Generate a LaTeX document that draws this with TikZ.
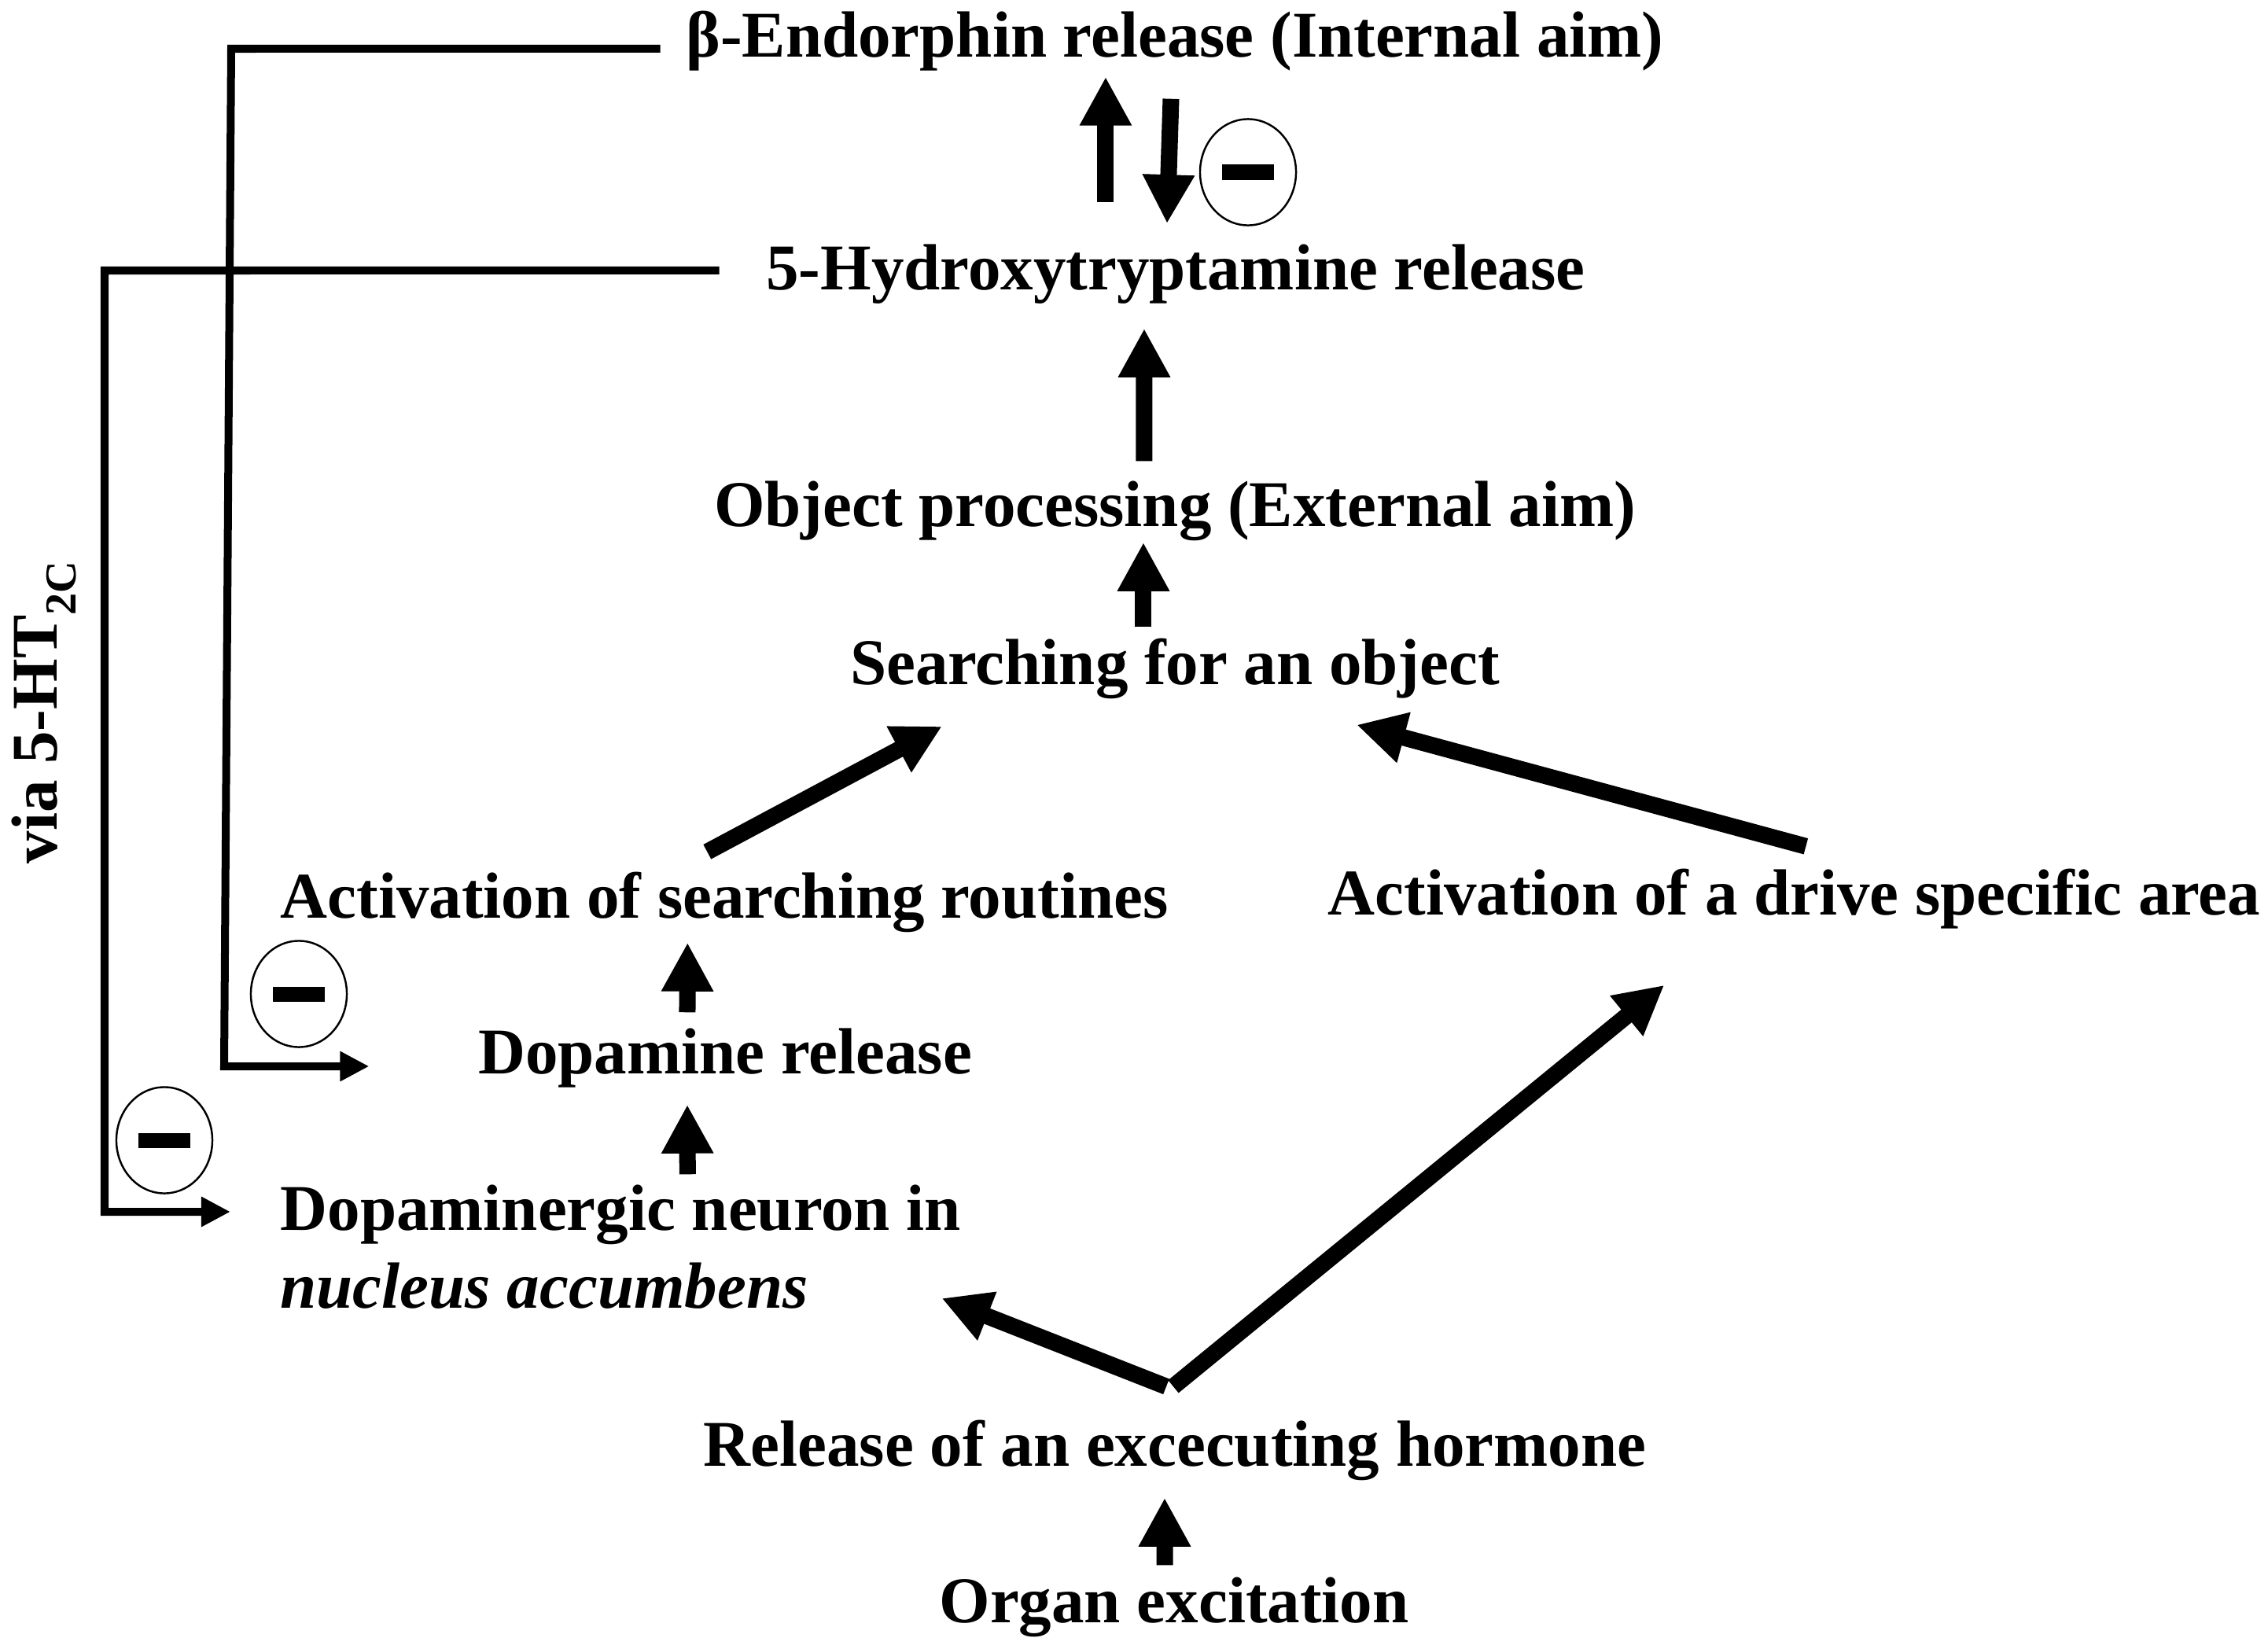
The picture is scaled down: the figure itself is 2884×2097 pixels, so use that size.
\documentclass[tikz,border=0pt]{standalone}
\usepackage{fontspec}
\setmainfont{Liberation Serif}
\usetikzlibrary{arrows.meta,shapes.geometric}

\begin{document}
\begin{tikzpicture}[x=0.01cm,y=-0.01cm,
    lbl/.style={inner sep=0pt,text height=0.58cm,text depth=0.18cm,font=\fontsize{23.6}{28}\selectfont\bfseries},
    bigarr/.style={line width=0.21cm,-{Triangle[length=0.62cm,width=0.62cm]}},
    thinarr/.style={line width=0.1cm,-{Triangle[length=0.37cm,width=0.36cm]}},
    inh/.style={draw,ellipse,line width=0.7pt,inner sep=0pt,minimum width=1.22cm,minimum height=1.35cm}]
    \useasboundingbox (0,0) rectangle (2884,2097);

    \node[lbl,anchor=base] (endo) at (1494,73) {β-Endorphin release (Internal aim)};
    \node[lbl,anchor=base] (ht) at (1495,369) {5-Hydroxytryptamine release};
    \node[lbl,anchor=base] (obj) at (1494,669) {Object processing (External aim)};
    \node[lbl,anchor=base] (srch) at (1494,870) {Searching for an object};
    \node[lbl,anchor=base west] (actr) at (356,1167) {Activation of searching routines};
    \node[lbl,anchor=base west] (drive) at (1688,1163) {Activation of a drive specific area};
    \node[lbl,anchor=base] (dopa) at (922,1365) {Dopamine release};
    \node[lbl,anchor=base west] (neur) at (356,1564) {Dopaminergic neuron in};
    \node[lbl,anchor=base west] (nucl) at (356,1663) {\itshape nucleus accumbens};
    \node[lbl,anchor=base] (rel) at (1494,1864) {Release of an excecuting hormone};
    \node[lbl,anchor=base] (organ) at (1493,2063) {Organ excitation};
    \node[lbl,rotate=90,anchor=base] (via) at (72,906) {via 5-HT\raisebox{-0.24cm}{\fontsize{16}{16}\selectfont 2C}};

    \node[inh] (m1) at (1587,219) {\rule{0.65cm}{0.19cm}};
    \node[inh] (m2) at (380,1264) {\rule{0.65cm}{0.19cm}};
    \node[inh] (m3) at (209,1450) {\rule{0.65cm}{0.19cm}};

    % main chain
    \draw[bigarr] ([xshift=-0.89cm,yshift=0.53cm]ht.north) -- ([xshift=-0.88cm,yshift=-0.06cm]endo.south);
    \draw[bigarr] ([xshift=-0.05cm,yshift=-0.34cm]endo.south) -- ([xshift=-0.11cm,yshift=0.26cm]ht.north);
    \draw[bigarr] ([xshift=-0.39cm,yshift=0.24cm]obj.north) -- ([xshift=-0.40cm,yshift=-0.30cm]ht.south);
    \draw[bigarr] ([xshift=-0.40cm,yshift=0.14cm]srch.north) -- ([xshift=-0.40cm,yshift=-0.02cm]obj.south);
    \draw[bigarr] ([xshift=5.43cm,yshift=0.25cm]actr.north west) -- ([xshift=-2.96cm,yshift=-0.35cm]srch.south);
    \draw[bigarr] ([xshift=6.08cm,yshift=0.28cm]drive.north west) -- ([xshift=2.31cm,yshift=-0.33cm]srch.south);
    \draw[bigarr] ([xshift=-0.48cm,yshift=0.19cm]dopa.north) -- ([xshift=5.18cm,yshift=-0.13cm]actr.south west);
    \draw[bigarr] ([xshift=5.18cm,yshift=0.12cm]neur.north west) -- ([xshift=-0.48cm,yshift=-0.21cm]dopa.south);
    \draw[bigarr] ([xshift=-0.11cm,yshift=0.42cm]rel.north) -- ([xshift=8.41cm,yshift=0.12cm]nucl.base west);
    \draw[bigarr] ([xshift=-0.02cm,yshift=0.42cm]rel.north) -- ([xshift=4.28cm,yshift=-0.71cm]drive.south west);
    \draw[bigarr] ([xshift=-0.12cm,yshift=0.14cm]organ.north) -- ([xshift=-0.13cm,yshift=-0.22cm]rel.south);

    % inhibition lines
    \draw[thinarr] ([xshift=-0.32cm,yshift=0.11cm]endo.base west) -- (294,62) -- (285,1356) -- ([xshift=-1.38cm,yshift=0.09cm]dopa.base west);
    \draw[thinarr] ([xshift=-0.59cm,yshift=0.25cm]ht.base west) -- (133,344) -- (133,1541) -- ([xshift=-0.63cm,yshift=0.23cm]neur.base west);
\end{tikzpicture}
\end{document}
